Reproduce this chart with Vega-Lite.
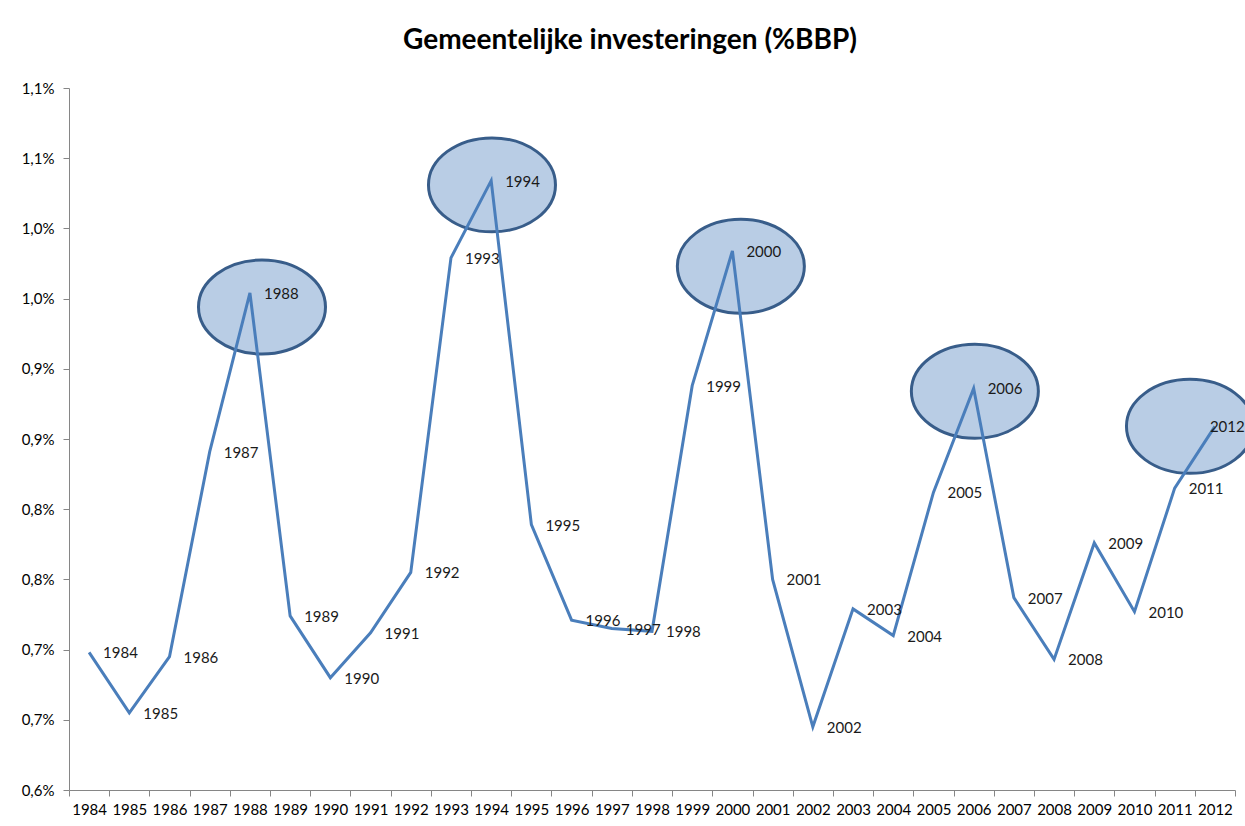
{
  "$schema": "https://vega.github.io/schema/vega-lite/v6.json",
  "width": 1166,
  "height": 702,
  "autosize": {"type": "none"},
  "padding": {"left": 69, "top": 88, "right": 10, "bottom": 36},
  "background": "white",
  "title": {"text": "Gemeentelijke investeringen (%BBP)", "font": "Lato", "fontSize": 28, "fontWeight": "bold", "color": "#000000", "anchor": "middle", "dx": -22, "offset": 26},
  "config": {"view": {"stroke": null}, "font": "Lato"},
  "datasets": {
    "series": [
      {"year": 1984, "value": 0.698},
      {"year": 1985, "value": 0.655},
      {"year": 1986, "value": 0.695},
      {"year": 1987, "value": 0.841},
      {"year": 1988, "value": 0.954},
      {"year": 1989, "value": 0.724},
      {"year": 1990, "value": 0.680},
      {"year": 1991, "value": 0.712},
      {"year": 1992, "value": 0.755},
      {"year": 1993, "value": 0.979},
      {"year": 1994, "value": 1.034},
      {"year": 1995, "value": 0.789},
      {"year": 1996, "value": 0.721},
      {"year": 1997, "value": 0.715},
      {"year": 1998, "value": 0.713},
      {"year": 1999, "value": 0.888},
      {"year": 2000, "value": 0.984},
      {"year": 2001, "value": 0.750},
      {"year": 2002, "value": 0.645},
      {"year": 2003, "value": 0.729},
      {"year": 2004, "value": 0.710},
      {"year": 2005, "value": 0.812},
      {"year": 2006, "value": 0.886},
      {"year": 2007, "value": 0.737},
      {"year": 2008, "value": 0.693},
      {"year": 2009, "value": 0.776},
      {"year": 2010, "value": 0.727},
      {"year": 2011, "value": 0.815},
      {"year": 2012, "value": 0.859}
    ],
    "highlights": [
      {"year": 1988, "cx": 1988.30, "value": 0.944},
      {"year": 1994, "cx": 1994.02, "value": 1.031},
      {"year": 2000, "cx": 2000.21, "value": 0.973},
      {"year": 2006, "cx": 2006.03, "value": 0.884},
      {"year": 2012, "cx": 2011.38, "value": 0.859}
    ]
  },
  "layer": [
    {
      "data": {"name": "highlights"},
      "mark": {"type": "point", "shape": "M-1,0A1,0.74,0,1,1,1,0A1,0.74,0,1,1,-1,0Z", "filled": true, "fill": "#b9cde5", "stroke": "#385d8a", "strokeWidth": 3, "opacity": 1, "fillOpacity": 1, "size": 16129},
      "encoding": {
        "x": {"field": "cx", "type": "quantitative", "scale": {"domain": [1983.5, 2012.5], "nice": false, "zero": false}, "axis": null},
        "y": {"field": "value", "type": "quantitative", "scale": {"domain": [0.6, 1.1], "nice": false, "zero": false}}
      }
    },
    {
      "data": {"name": "series"},
      "mark": {"type": "line", "color": "#4a7ebb", "strokeWidth": 3},
      "encoding": {
        "x": {"field": "year", "type": "ordinal", "scale": {"type": "band", "paddingInner": 0, "paddingOuter": 0},
          "axis": {"title": null, "tickBand": "extent", "labelAngle": 0, "domainColor": "#868686", "tickColor": "#868686", "tickSize": 6, "labelFontSize": 15, "labelFont": "Lato", "labelColor": "#000000", "labelPadding": 6, "grid": false}},
        "y": {"field": "value", "type": "quantitative", "scale": {"domain": [0.6, 1.1], "nice": false, "zero": false},
          "axis": {"title": null, "values": [0.6, 0.65, 0.7, 0.75, 0.8, 0.85, 0.9, 0.95, 1.0, 1.05, 1.1], "labelExpr": "replace(format(round(datum.value*10+0.0001)/10, '.1f'), '.', ',') + '%'", "domainColor": "#868686", "tickColor": "#868686", "tickSize": 6, "labelFontSize": 15, "labelFont": "Lato", "labelColor": "#000000", "labelPadding": 9, "grid": false}}
      }
    },
    {
      "data": {"name": "series"},
      "transform": [{"filter": "datum.year != 2012"}],
      "mark": {"type": "text", "align": "left", "baseline": "middle", "dx": 14, "dy": 1, "fontSize": 15, "font": "Lato", "color": "#1a1a1a"},
      "encoding": {
        "x": {"field": "year", "type": "quantitative", "scale": {"domain": [1983.5, 2012.5], "nice": false, "zero": false}, "axis": null},
        "y": {"field": "value", "type": "quantitative", "scale": {"domain": [0.6, 1.1], "nice": false, "zero": false}},
        "text": {"field": "year", "type": "nominal"}
      }
    },
    {
      "data": {"name": "series"},
      "transform": [{"filter": "datum.year == 2012"}],
      "mark": {"type": "text", "align": "left", "baseline": "middle", "dx": -5, "dy": 1, "fontSize": 15, "font": "Lato", "color": "#1a1a1a"},
      "encoding": {
        "x": {"field": "year", "type": "quantitative", "scale": {"domain": [1983.5, 2012.5], "nice": false, "zero": false}, "axis": null},
        "y": {"field": "value", "type": "quantitative", "scale": {"domain": [0.6, 1.1], "nice": false, "zero": false}},
        "text": {"field": "year", "type": "nominal"}
      }
    }
  ],
  "resolve": {"scale": {"x": "independent", "y": "shared"}}
}
